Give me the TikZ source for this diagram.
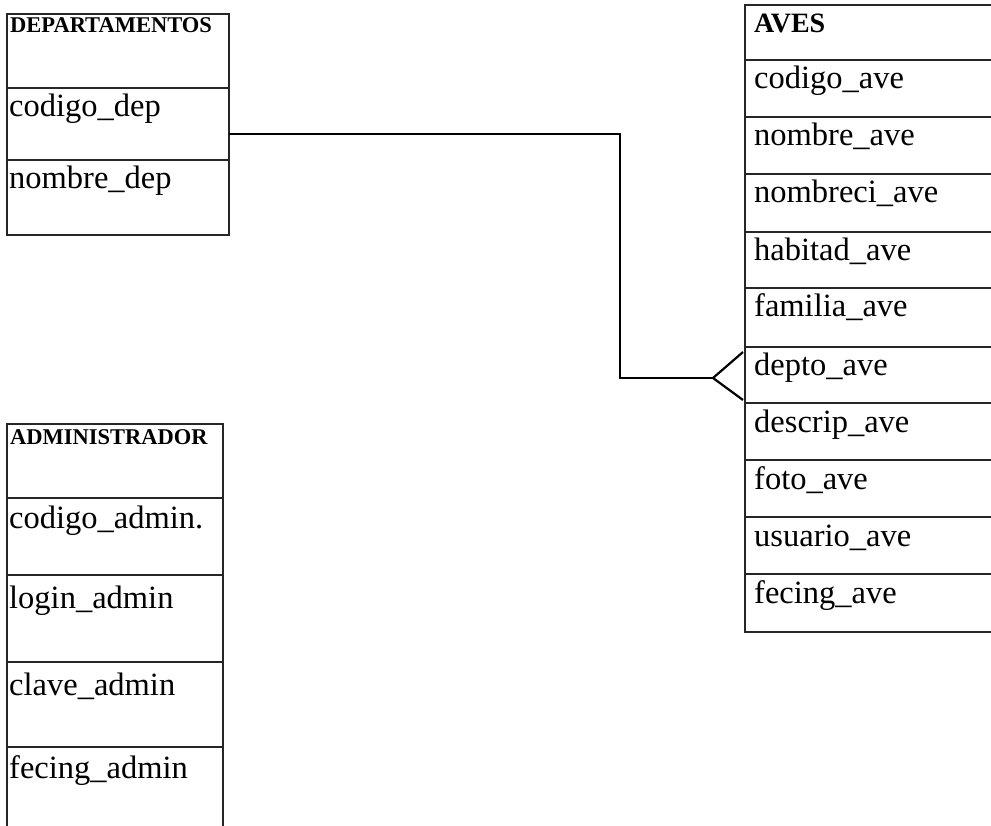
\documentclass[tikz,border=0pt]{standalone}
\usepackage{fontspec}
\setmainfont{Liberation Serif}
\begin{document}
\begin{tikzpicture}[x=1pt,y=-1pt,
  rowbox/.style={draw=black!85, line width=1.2pt, rectangle, inner sep=0pt, outer sep=0pt, anchor=north west},
  fieldtext/.style={anchor=base west, inner sep=0pt, font=\fontsize{32.5}{38}\selectfont},
  headtext/.style={anchor=base west, inner sep=0pt, font=\fontsize{22.5}{27}\selectfont\bfseries},
  bighead/.style={anchor=base west, inner sep=0pt, font=\fontsize{28}{32}\selectfont\bfseries},
  conn/.style={draw=black, line width=2.2pt}]
\useasboundingbox (0,0) rectangle (991,826);
\fill[white] (0,0) rectangle (991,826);

% DEPARTAMENTOS
\node[rowbox, minimum width=222pt, minimum height=74pt] (dep-h) at (7,14) {};
\node[rowbox, minimum width=222pt, minimum height=72pt] (dep-codigo) at (7,88) {};
\node[rowbox, minimum width=222pt, minimum height=75pt] (dep-nombre) at (7,160) {};
\node[headtext] at ([xshift=3pt,yshift=-19pt]dep-h.north west) {DEPARTAMENTOS};
\node[fieldtext] at ([xshift=2pt,yshift=-29pt]dep-codigo.north west) {codigo\_dep};
\node[fieldtext] at ([xshift=2pt,yshift=-29pt]dep-nombre.north west) {nombre\_dep};

% ADMINISTRADOR
\node[rowbox, minimum width=216pt, minimum height=74pt] (adm-h) at (7,424) {};
\node[rowbox, minimum width=216pt, minimum height=77pt] (adm-codigo) at (7,498) {};
\node[rowbox, minimum width=216pt, minimum height=87pt] (adm-login) at (7,575) {};
\node[rowbox, minimum width=216pt, minimum height=85pt] (adm-clave) at (7,662) {};
\node[rowbox, minimum width=216pt, minimum height=100pt] (adm-fecing) at (7,747) {};
\node[headtext] at ([xshift=3pt,yshift=-20pt]adm-h.north west) {ADMINISTRADOR};
\node[fieldtext] at ([xshift=2pt,yshift=-30pt]adm-codigo.north west) {codigo\_admin.};
\node[fieldtext] at ([xshift=2pt,yshift=-33pt]adm-login.north west) {login\_admin};
\node[fieldtext] at ([xshift=2pt,yshift=-33pt]adm-clave.north west) {clave\_admin};
\node[fieldtext] at ([xshift=2pt,yshift=-31pt]adm-fecing.north west) {fecing\_admin};

% AVES
\node[rowbox, minimum width=260pt, minimum height=55pt] (aves-h) at (745,5) {};
\node[bighead] at ([xshift=9pt,yshift=-28pt]aves-h.north west) {AVES};
\foreach \name/\label/\top/\h in {
  codigo/codigo\_ave/60/57,
  nombre/nombre\_ave/117/57,
  nombreci/nombreci\_ave/174/58,
  habitad/habitad\_ave/232/56,
  familia/familia\_ave/288/59,
  depto/depto\_ave/347/56,
  descrip/descrip\_ave/403/57,
  foto/foto\_ave/460/57,
  usuario/usuario\_ave/517/57,
  fecing/fecing\_ave/574/58}{
  \node[rowbox, minimum width=260pt, minimum height=\h pt] (aves-\name) at (745,\top) {};
  \node[fieldtext] at ([xshift=9pt,yshift=-29pt]aves-\name.north west) {\label};
}

% one-to-many relationship DEPARTAMENTOS -> AVES
\coordinate (crow) at ([xshift=-32pt,yshift=-3pt]aves-depto.west);
\draw[conn] ([yshift=-10pt]dep-codigo.east) -| ([xshift=-93pt]crow) -- (crow);
\draw[conn] ([xshift=-2pt,yshift=-5pt]aves-depto.north west) -- (crow)
  -- ([xshift=-2pt,yshift=3pt]aves-depto.south west);
\end{tikzpicture}
\end{document}
